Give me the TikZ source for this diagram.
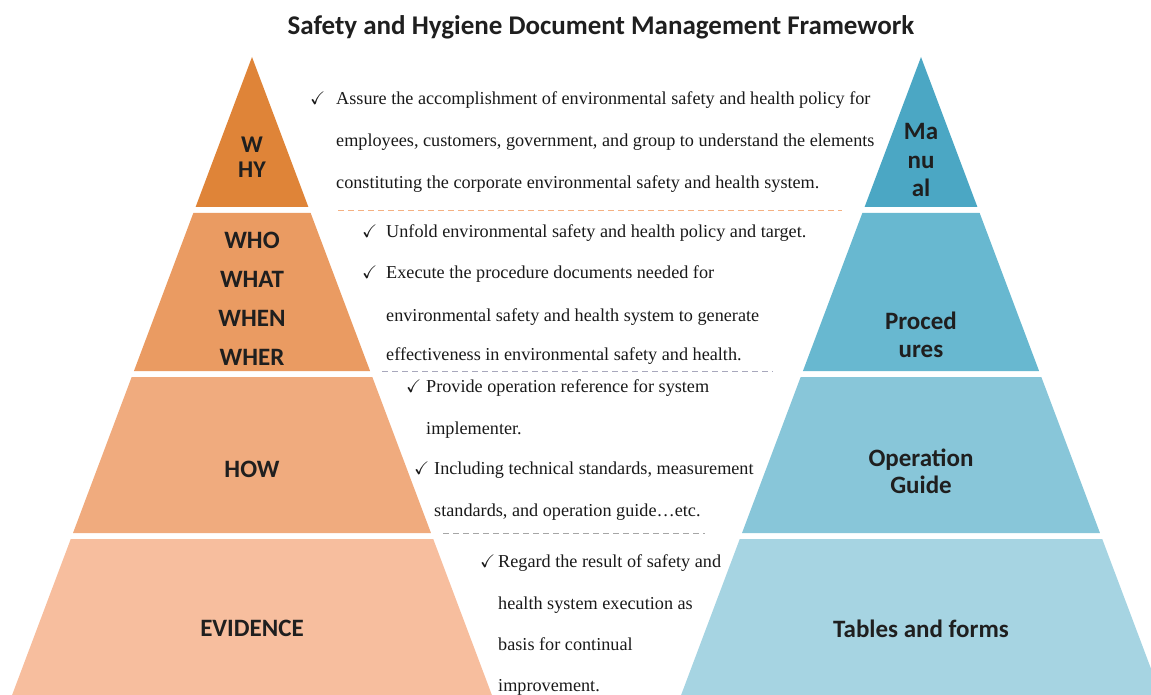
\documentclass[tikz,border=0pt]{standalone}
\usepackage{fontspec}
\usepackage{amssymb}
\setmainfont{Liberation Serif}
\newfontfamily\lblfont{Carlito}
\definecolor{orA}{HTML}{DF8438}
\definecolor{orB}{HTML}{EA9B62}
\definecolor{orC}{HTML}{F0AB7E}
\definecolor{orD}{HTML}{F7BE9E}
\definecolor{blA}{HTML}{4BA7C4}
\definecolor{blB}{HTML}{68B8D0}
\definecolor{blC}{HTML}{88C6D9}
\definecolor{blD}{HTML}{A6D4E2}
\definecolor{sepA}{HTML}{F4B183}
\definecolor{sepB}{HTML}{A8A8BC}
\definecolor{sepC}{HTML}{A6A6A6}
\newcommand{\ck}{$\checkmark$}

\begin{document}
\begin{tikzpicture}[x=1pt,y=-1pt]
\tikzset{lbl/.style={font=\lblfont\bfseries\fontsize{25}{29}\selectfont,text=black!88,align=center,inner sep=0pt},
  txt/.style={font=\fontsize{18.2}{21}\selectfont,anchor=base west,inner sep=0pt,text=black!90},
  sep/.style={dash pattern=on 6pt off 4pt,line width=0.8pt}}
\useasboundingbox (0,0) rectangle (1151,695);
\clip (0,0) rectangle (1151,695);

% pyramids
\fill[orA] (252,57) -- (308.4,207) -- (195.6,207) -- cycle;
\fill[blA] (921,57) -- (977.4,207) -- (864.6,207) -- cycle;
\foreach \t/\b/\cl/\cr in {213/371/orB/blB,377/533/orC/blC,539/720/orD/blD}{
  \fill[\cl] ({252-0.376*(\t-57)},\t) -- ({252+0.376*(\t-57)},\t) -- ({252+0.376*(\b-57)},\b) -- ({252-0.376*(\b-57)},\b) -- cycle;
  \fill[\cr] ({921-0.376*(\t-57)},\t) -- ({921+0.376*(\t-57)},\t) -- ({921+0.376*(\b-57)},\b) -- ({921-0.376*(\b-57)},\b) -- cycle;
}

\node[lbl,font=\lblfont\bfseries\fontsize{27}{30}\selectfont] (title) at (601,27) {Safety and Hygiene Document Management Framework};

% left labels
\node[lbl,font=\lblfont\bfseries\fontsize{24}{25}\selectfont] (why) at (252,157) {W\\HY};
\node[lbl,font=\lblfont\bfseries\fontsize{25}{39}\selectfont] (who) at (252,299) {WHO\\WHAT\\WHEN\\WHER};
\node[lbl] (how) at (252,469) {HOW};
\node[lbl] (evid) at (252,628) {EVIDENCE};

% right labels
\node[lbl,font=\lblfont\bfseries\fontsize{25}{28.5}\selectfont] (manual) at (921,160) {Ma\\nu\\al};
\node[lbl,font=\lblfont\bfseries\fontsize{25}{28}\selectfont] (proc) at (921,335) {Proced\\ures};
\node[lbl,font=\lblfont\bfseries\fontsize{25}{27}\selectfont] (opguide) at (921,471) {Operation\\Guide};
\node[lbl] (tables) at (921,629) {Tables and forms};

% text blocks
\node[txt] (c1) at (310,105) {\ck};
\node[txt] (a1) at (336,105) {Assure the accomplishment of environmental safety and health policy for};
\node[txt] (a2) at (336,147) {employees, customers, government, and group to understand the elements};
\node[txt] (a3) at (336,189) {constituting the corporate environmental safety and health system.};
\draw[sep,sepA] (338,210) -- (842,210);

\node[txt] (c2) at (362,237) {\ck};
\node[txt] (b1) at (386,237) {Unfold environmental safety and health policy and target.};
\node[txt] (c3) at (362,278) {\ck};
\node[txt] (b2) at (386,278) {Execute the procedure documents needed for};
\node[txt] (b3) at (386,321) {environmental safety and health system to generate};
\node[txt] (b4) at (386,360) {effectiveness in environmental safety and health.};
\draw[sep,sepB] (382,371) -- (773,371);

\node[txt] (c4) at (406,392) {\ck};
\node[txt] (d1) at (426,392) {Provide operation reference for system};
\node[txt] (d2) at (426,434) {implementer.};
\node[txt] (c5) at (414,474) {\ck};
\node[txt] (d3) at (434,474) {Including technical standards, measurement};
\node[txt] (d4) at (434,516) {standards, and operation guide\ldots etc.};
\draw[sep,sepC] (443,533) -- (705,533);

\node[txt] (c6) at (480,567) {\ck};
\node[txt] (e1) at (498,567) {Regard the result of safety and};
\node[txt] (e2) at (498,609) {health system execution as};
\node[txt] (e3) at (498,650) {basis for continual};
\node[txt] (e4) at (498,691) {improvement.};
\end{tikzpicture}
\end{document}
